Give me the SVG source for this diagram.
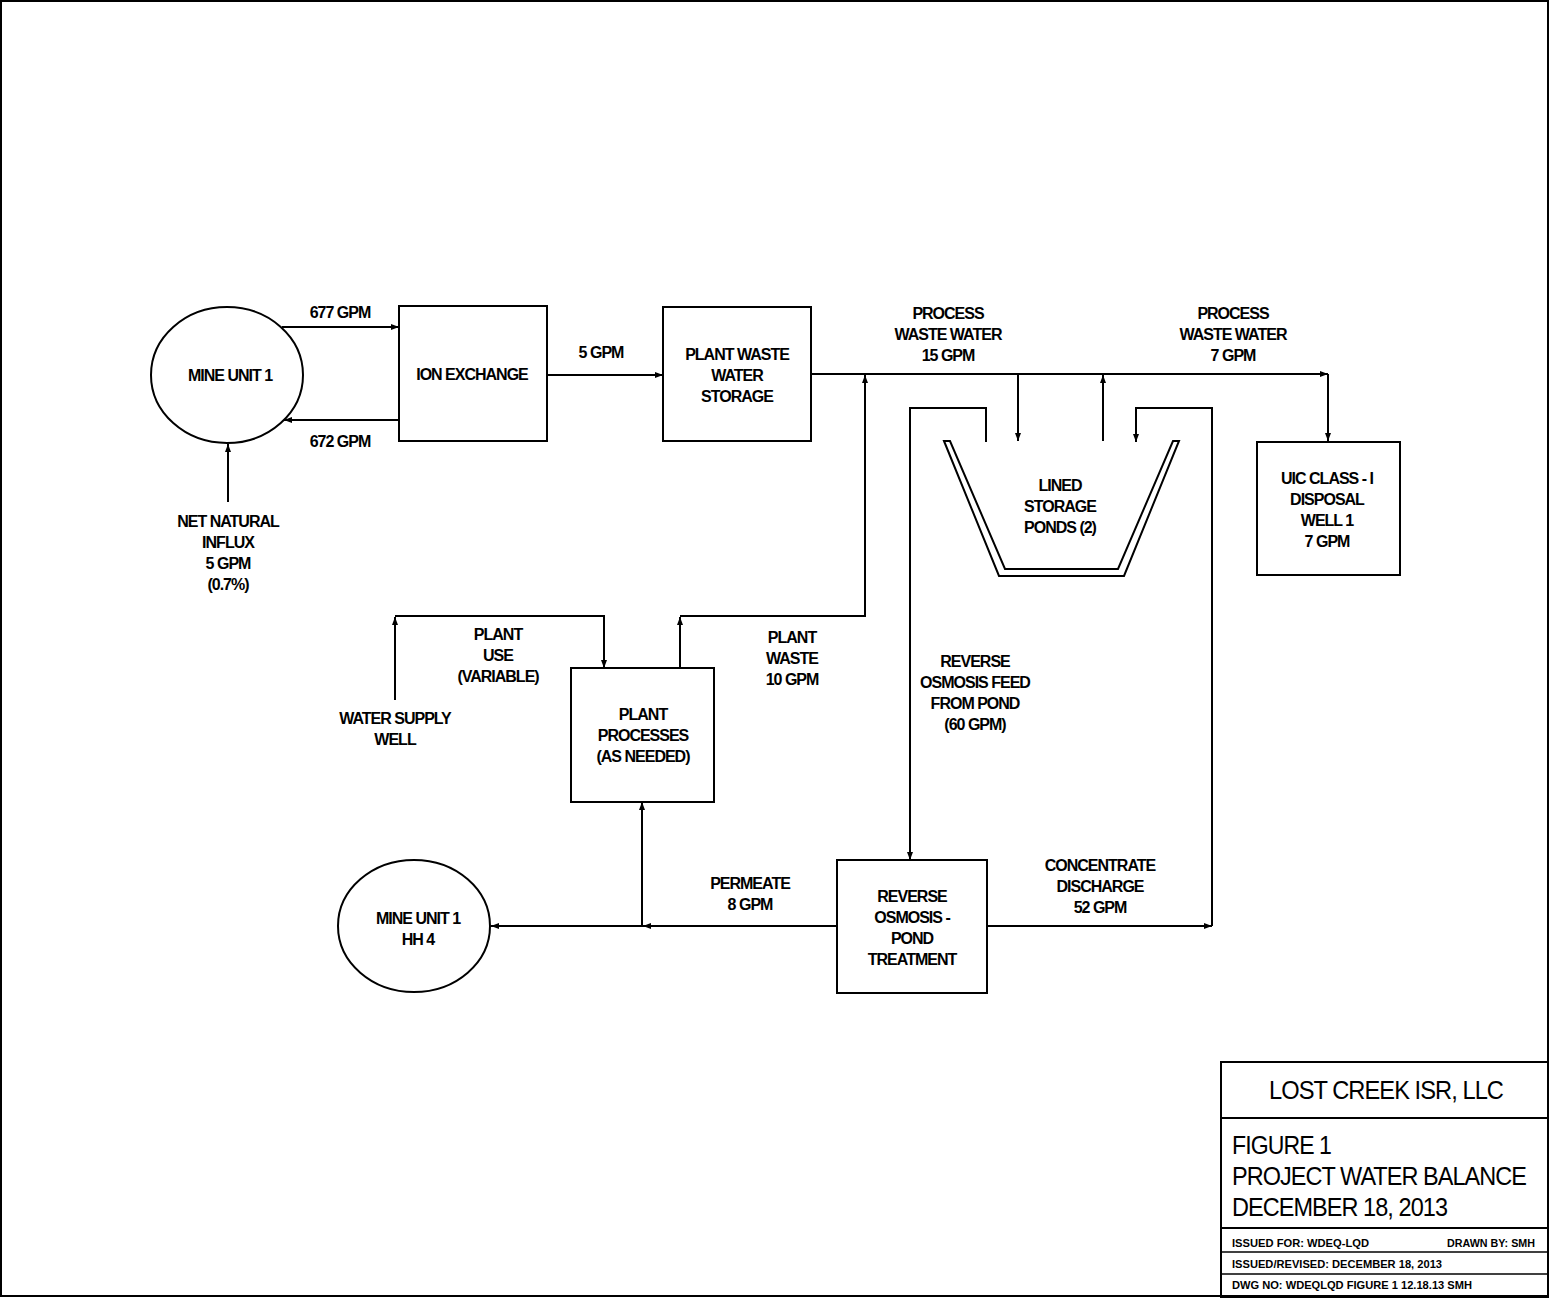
<svg xmlns="http://www.w3.org/2000/svg" width="1549" height="1298" viewBox="0 0 1549 1298">
<style>
.n{fill:none;stroke:#000;stroke-width:2}
.c{fill:none;stroke:#000;stroke-width:2}
.a{marker-end:url(#ah)}
text{font-family:"Liberation Sans",Arial,sans-serif;fill:#000}
.t{font-size:16px;font-weight:bold;letter-spacing:-1px;text-anchor:middle}
.tb{font-size:25px;letter-spacing:-1px}
.ts{font-size:11.5px;font-weight:bold}
</style>
<defs>
<marker id="ah" markerUnits="userSpaceOnUse" markerWidth="9" markerHeight="6" refX="8" refY="3" orient="auto">
<path d="M0,0 L8,3 L0,6 Z" fill="#000"/>
</marker>
</defs>
<rect x="1" y="1" width="1547" height="1295" fill="#fff" stroke="#000" stroke-width="2"/>

<g id="connectors">
<path class="c a" d="M282,327 L399,327"/>
<path class="c a" d="M399,420 L284,420"/>
<path class="c a" d="M228,502 L228,444"/>
<path class="c a" d="M547,375 L663,375"/>
<path class="c a" d="M811,374 L1328,374"/>
<path class="c a" d="M1328,374 L1328,441"/>
<path class="c a" d="M1018,374 L1018,441"/>
<path class="c a" d="M1103,441 L1103,375"/>
<path class="c a" d="M680,668 L680,617"/>
<path class="c a" d="M680,616 L865,616 L865,375"/>
<path class="c a" d="M395,700 L395,617"/>
<path class="c a" d="M395,616 L604,616 L604,668"/>
<path class="c a" d="M986,442 L986,408 L910,408 L910,860"/>
<path class="c a" d="M987,926 L1212,926"/>
<path class="c a" d="M1212,926 L1212,408 L1136,408 L1136,442"/>
<path class="c a" d="M837,926 L643,926"/>
<path class="c a" d="M643,926 L491,926"/>
<path class="c a" d="M642,926 L642,802"/>
</g>

<g id="labels">
<text class="t" x="340" y="318">677 GPM</text>
<text class="t" x="340" y="447">672 GPM</text>
<text class="t" x="228" y="527">NET NATURAL</text>
<text class="t" x="228" y="548">INFLUX</text>
<text class="t" x="228" y="569">5 GPM</text>
<text class="t" x="228" y="590">(0.7%)</text>
<text class="t" x="601" y="358">5 GPM</text>
<text class="t" x="948" y="319">PROCESS</text>
<text class="t" x="948" y="340">WASTE WATER</text>
<text class="t" x="948" y="361">15 GPM</text>
<text class="t" x="1233" y="319">PROCESS</text>
<text class="t" x="1233" y="340">WASTE WATER</text>
<text class="t" x="1233" y="361">7 GPM</text>
<text class="t" x="498" y="640">PLANT</text>
<text class="t" x="498" y="661">USE</text>
<text class="t" x="498" y="682">(VARIABLE)</text>
<text class="t" x="395" y="724">WATER SUPPLY</text>
<text class="t" x="395" y="745">WELL</text>
<text class="t" x="792" y="643">PLANT</text>
<text class="t" x="792" y="664">WASTE</text>
<text class="t" x="792" y="685">10 GPM</text>
<text class="t" x="975" y="667">REVERSE</text>
<text class="t" x="975" y="688">OSMOSIS FEED</text>
<text class="t" x="975" y="709">FROM POND</text>
<text class="t" x="975" y="730">(60 GPM)</text>
<text class="t" x="750" y="889">PERMEATE</text>
<text class="t" x="750" y="910">8 GPM</text>
<text class="t" x="1100" y="871">CONCENTRATE</text>
<text class="t" x="1100" y="892">DISCHARGE</text>
<text class="t" x="1100" y="913">52 GPM</text>
</g>

<g id="mine-unit-1">
<ellipse class="n" cx="227" cy="375" rx="76" ry="68"/>
<text class="t" x="230" y="381">MINE UNIT 1</text>
</g>
<g id="ion-exchange">
<rect class="n" x="399" y="306" width="148" height="135"/>
<text class="t" x="472" y="380">ION EXCHANGE</text>
</g>
<g id="plant-waste-water-storage">
<rect class="n" x="663" y="307" width="148" height="134"/>
<text class="t" x="737" y="360">PLANT WASTE</text>
<text class="t" x="737" y="381">WATER</text>
<text class="t" x="737" y="402">STORAGE</text>
</g>
<g id="lined-storage-ponds">
<path class="n" d="M944,441 L999,576 L1124,576 L1179,441 L1173,441 L1118,569 L1005,569 L950,441 Z"/>
<text class="t" x="1060" y="491">LINED</text>
<text class="t" x="1060" y="512">STORAGE</text>
<text class="t" x="1060" y="533">PONDS (2)</text>
</g>
<g id="uic-disposal-well">
<rect class="n" x="1257" y="442" width="143" height="133"/>
<text class="t" x="1327" y="484">UIC CLASS - I</text>
<text class="t" x="1327" y="505">DISPOSAL</text>
<text class="t" x="1327" y="526">WELL 1</text>
<text class="t" x="1327" y="547">7 GPM</text>
</g>
<g id="plant-processes">
<rect class="n" x="571" y="668" width="143" height="134"/>
<text class="t" x="643" y="720">PLANT</text>
<text class="t" x="643" y="741">PROCESSES</text>
<text class="t" x="643" y="762">(AS NEEDED)</text>
</g>
<g id="mine-unit-1-hh4">
<ellipse class="n" cx="414" cy="926" rx="76" ry="66"/>
<text class="t" x="418" y="924">MINE UNIT 1</text>
<text class="t" x="418" y="945">HH 4</text>
</g>
<g id="reverse-osmosis">
<rect class="n" x="837" y="860" width="150" height="133"/>
<text class="t" x="912" y="902">REVERSE</text>
<text class="t" x="912" y="923">OSMOSIS -</text>
<text class="t" x="912" y="944">POND</text>
<text class="t" x="912" y="965">TREATMENT</text>
</g>

<g id="title-block">
<rect x="1221" y="1062" width="330" height="236" fill="none" stroke="#000" stroke-width="2"/>
<line x1="1221" y1="1118" x2="1549" y2="1118" stroke="#000" stroke-width="2"/>
<line x1="1221" y1="1228" x2="1549" y2="1228" stroke="#000" stroke-width="2"/>
<line x1="1221" y1="1252" x2="1549" y2="1252" stroke="#000" stroke-width="1.5"/>
<line x1="1221" y1="1274" x2="1549" y2="1274" stroke="#000" stroke-width="1.5"/>
<text class="tb" x="1269" y="1099" textLength="234" lengthAdjust="spacingAndGlyphs">LOST CREEK ISR, LLC</text>
<text class="tb" x="1232" y="1154" textLength="99" lengthAdjust="spacingAndGlyphs">FIGURE 1</text>
<text class="tb" x="1232" y="1185" textLength="294" lengthAdjust="spacingAndGlyphs">PROJECT WATER BALANCE</text>
<text class="tb" x="1232" y="1216" textLength="215" lengthAdjust="spacingAndGlyphs">DECEMBER 18, 2013</text>
<text class="ts" x="1232" y="1247" textLength="137" lengthAdjust="spacingAndGlyphs">ISSUED FOR:  WDEQ-LQD</text>
<text class="ts" x="1447" y="1247" textLength="88" lengthAdjust="spacingAndGlyphs">DRAWN BY:  SMH</text>
<text class="ts" x="1232" y="1268" textLength="210" lengthAdjust="spacingAndGlyphs">ISSUED/REVISED:  DECEMBER 18, 2013</text>
<text class="ts" x="1232" y="1289" textLength="240" lengthAdjust="spacingAndGlyphs">DWG NO:  WDEQLQD FIGURE 1 12.18.13 SMH</text>
</g>
</svg>
